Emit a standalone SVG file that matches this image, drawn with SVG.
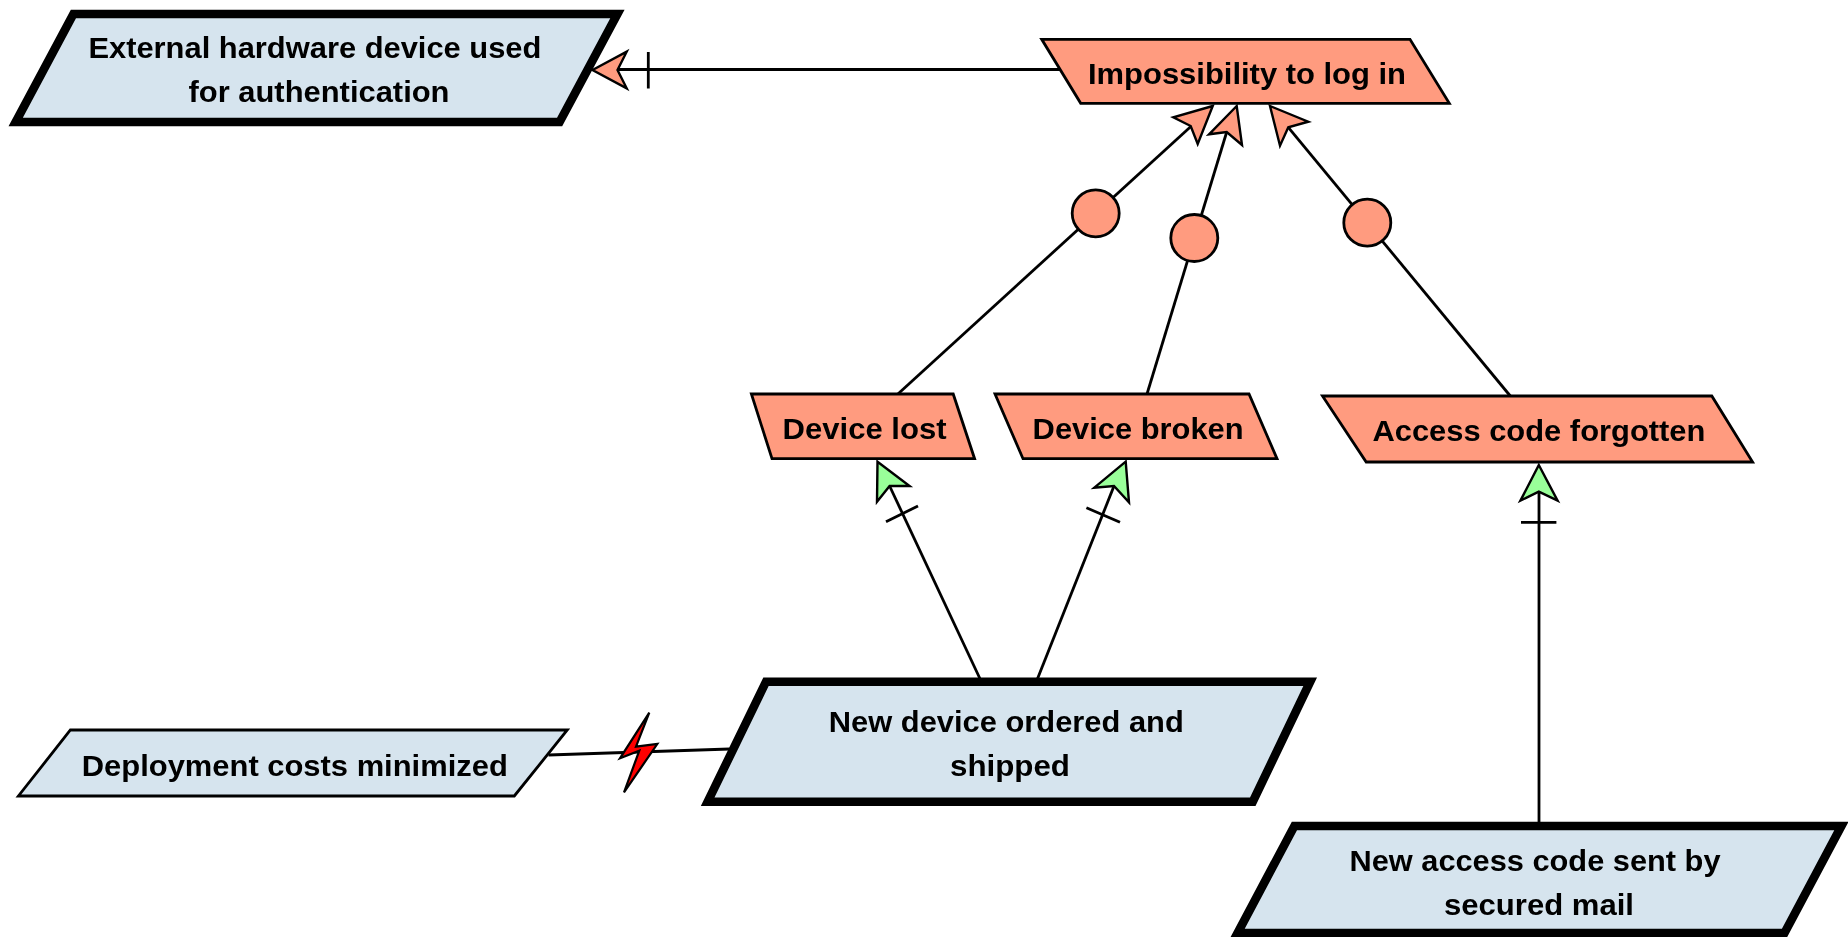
<svg xmlns="http://www.w3.org/2000/svg" width="1848" height="937" viewBox="0 0 1848 937">
  <defs>
    <filter id="soft" x="-2%" y="-2%" width="104%" height="104%"><feGaussianBlur stdDeviation="0.75"/></filter>
  </defs>
  <style>
    text { font-family: "Liberation Sans", Arial, sans-serif; font-size: 30px; font-weight: bold; fill: #000; }
    .goal { fill: #d6e4ee; stroke: #000; stroke-width: 2.8; stroke-linejoin: miter; }
    .req { fill: #d6e4ee; stroke: #000; stroke-width: 8.6; stroke-linejoin: miter; }
    .obs { fill: #ff9b7f; stroke: #000; stroke-width: 2.8; stroke-linejoin: miter; }
    .line { fill: none; stroke: #000; stroke-width: 2.8; }
    .ar { fill: #ff9b7f; stroke: #000; stroke-width: 2.4; stroke-linejoin: miter; }
    .ag { fill: #99ff99; stroke: #000; stroke-width: 2.4; stroke-linejoin: miter; }
    .or { fill: #ff9b7f; stroke: #000; stroke-width: 2.8; }
    .bolt { fill: #ff0000; stroke: #000; stroke-width: 2.2; stroke-linejoin: miter; }
  </style>
  <rect width="1848" height="937" fill="#fff"/>
  <g filter="url(#soft)">
    <g id="connectors">
      <line class="line" x1="1062" y1="69.5" x2="617" y2="69.5"/>
      <line class="line" x1="648.3" y1="52" x2="648.3" y2="88.5"/>
      <polygon class="ar" points="592.5,70 626.7,51.7 617.5,70 626.7,88.3"/>

      <line class="line" x1="897.9" y1="394" x2="1192.5" y2="125"/>
      <polygon class="ar" points="1212.7,106 1173.3,117.3 1190.7,126 1197.7,144"/>
      <circle class="or" cx="1095.7" cy="213.3" r="23.5"/>

      <line class="line" x1="1147" y1="394" x2="1226.7" y2="132"/>
      <polygon class="ar" points="1236.7,106 1209,134.3 1226.7,132 1242,145"/>
      <circle class="or" cx="1194.3" cy="238" r="23.5"/>

      <line class="line" x1="1510.3" y1="396" x2="1288.3" y2="127.3"/>
      <polygon class="ar" points="1270,106 1308.3,121.7 1288.3,127.3 1280,145.7"/>
      <circle class="or" cx="1367.3" cy="222.7" r="23.5"/>

      <line class="line" x1="980.6" y1="680" x2="889.6" y2="486"/>
      <line class="line" x1="886" y1="521.7" x2="918" y2="506"/>
      <polygon class="ag" points="877.5,461.7 909.6,486 889.6,486 877,501.7"/>

      <line class="line" x1="1037" y1="680" x2="1114" y2="486"/>
      <line class="line" x1="1086.4" y1="507.7" x2="1120" y2="522.3"/>
      <polygon class="ag" points="1125.7,461.7 1094.3,487.7 1114,486 1129,502.3"/>

      <line class="line" x1="1539" y1="824" x2="1539" y2="491.7"/>
      <line class="line" x1="1521" y1="522.3" x2="1556.4" y2="522.3"/>
      <polygon class="ag" points="1538.8,465 1557.6,500.7 1538.8,491.7 1520.4,500.7"/>

      <line class="line" x1="548.5" y1="755" x2="729.6" y2="749"/>
      <polygon class="bolt" points="649.3,712.7 620,758.3 639.3,750.7 624,792.3 657.3,744 636,746.7"/>
    </g>

    <g id="node-external">
      <polygon class="req" points="73.4,14 617.4,14 559.6,122 15.7,122"/>
      <text x="88.4" y="58.3" textLength="453" lengthAdjust="spacingAndGlyphs">External hardware device used</text>
      <text x="188.5" y="101.7" textLength="261" lengthAdjust="spacingAndGlyphs">for authentication</text>
    </g>
    <g id="node-impossibility">
      <polygon class="obs" points="1041.7,39.3 1410,39.3 1449.3,103.3 1080.7,103.3"/>
      <text x="1088" y="83.8" textLength="318" lengthAdjust="spacingAndGlyphs">Impossibility to log in</text>
    </g>
    <g id="node-device-lost">
      <polygon class="obs" points="751.4,394 953.2,394 974.6,458.7 772,458.7"/>
      <text x="782.6" y="439" textLength="164" lengthAdjust="spacingAndGlyphs">Device lost</text>
    </g>
    <g id="node-device-broken">
      <polygon class="obs" points="995,394 1249,394 1277,458.7 1023,458.7"/>
      <text x="1032.6" y="439" textLength="211" lengthAdjust="spacingAndGlyphs">Device broken</text>
    </g>
    <g id="node-access-forgotten">
      <polygon class="obs" points="1322.5,396 1711.8,396 1752.6,462 1366.2,462"/>
      <text x="1372.4" y="440.7" textLength="333" lengthAdjust="spacingAndGlyphs">Access code forgotten</text>
    </g>
    <g id="node-new-device">
      <polygon class="req" points="766,681.7 1310.2,681.7 1252.8,801.7 707.7,801.7"/>
      <text x="828.8" y="731.7" textLength="355" lengthAdjust="spacingAndGlyphs">New device ordered and</text>
      <text x="950" y="775.7" textLength="120" lengthAdjust="spacingAndGlyphs">shipped</text>
    </g>
    <g id="node-deployment">
      <polygon class="goal" points="70.4,730 567.3,730 514.3,796 18.4,796"/>
      <text x="81.8" y="776" textLength="426" lengthAdjust="spacingAndGlyphs">Deployment costs minimized</text>
    </g>
    <g id="node-new-access">
      <polygon class="req" points="1294.4,826 1841.4,826 1784.5,933 1237.6,933"/>
      <text x="1349.5" y="871" textLength="371" lengthAdjust="spacingAndGlyphs">New access code sent by</text>
      <text x="1444" y="915" textLength="190" lengthAdjust="spacingAndGlyphs">secured mail</text>
    </g>
  </g>
</svg>
